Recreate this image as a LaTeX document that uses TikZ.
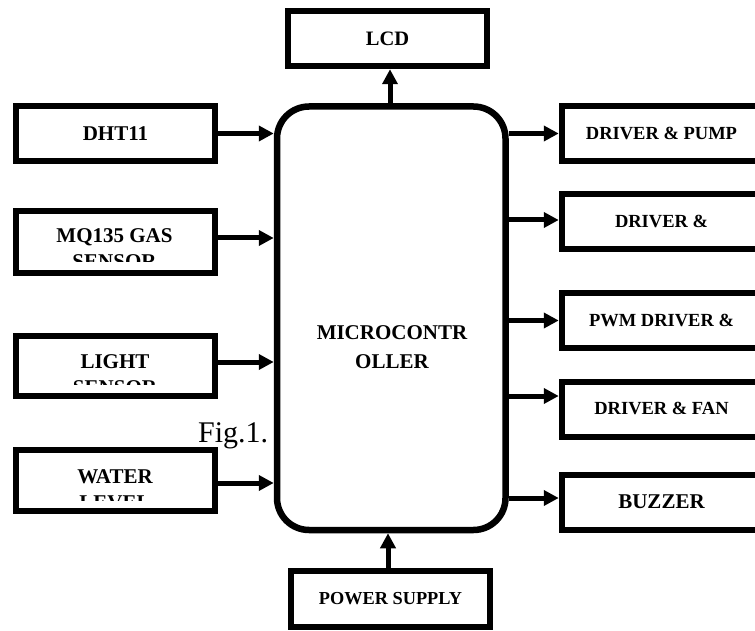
\documentclass[tikz,border=0pt]{standalone}
\usepackage{fontspec}
\setmainfont{Liberation Serif}
\usetikzlibrary{arrows.meta}
\begin{document}
\begin{tikzpicture}[x=1pt,y=-1pt,
  blk/.style={draw, line width=6.5pt, inner sep=0pt, minimum width=199pt, minimum height=55pt},
  lbl/.style={inner sep=0pt, font=\fontsize{21}{24}\selectfont\bfseries},
  rlbl/.style={font=\fontsize{18.5}{22}\selectfont\bfseries},
  arr/.style={line width=5pt, -{Triangle[length=15pt,width=15pt]}},
  mcu/.style={draw, line width=6.5pt, rounded corners=32pt, minimum width=228.5pt, minimum height=423.5pt, inner sep=0pt}]
\useasboundingbox (0,0) rectangle (755,631);
\clip (0,0) rectangle (755,631);
\fill[white] (0,0) rectangle (755,631);

% figure caption
\node[anchor=base west, inner sep=0pt, font=\fontsize{30}{34}\selectfont] (fig) at (198,442) {Fig.1.};

% microcontroller
\node[mcu] (mc) at (391.25,318.25) {};
\node[lbl, anchor=base] (mc1) at (392,339) {MICROCONTR};
\node[lbl, anchor=base] (mc2) at (392,368) {OLLER};

% top / bottom
\node[blk, font=\fontsize{20.5}{24}\selectfont\bfseries] (lcd) at (387.5,38.5) {LCD};
\node[blk, minimum height=56pt, font=\fontsize{18.3}{22}\selectfont\bfseries] (pwr) at (390.5,599) {POWER SUPPLY};

% left inputs
\node[blk, font=\fontsize{21}{24}\selectfont\bfseries] (dht) at (115.5,133.5) {DHT11};
\node[blk, minimum height=62pt] (mq) at (115.5,242) {};
\node[lbl, anchor=base] (mqa) at (114.5,243) {MQ135 GAS};
\begin{scope}
  \clip (16,211) rectangle (215,261);
  \node[lbl, anchor=base] (mqb) at (114.5,269) {SENSOR};
\end{scope}
\node[blk, minimum height=60pt] (light) at (115.5,366) {};
\node[lbl, anchor=base] (lta) at (115,368) {LIGHT};
\begin{scope}
  \clip (16,336) rectangle (215,384);
  \node[lbl, anchor=base] (ltb) at (115,394) {SENSOR};
\end{scope}
\node[blk, minimum height=61pt] (water) at (115.5,480.5) {};
\node[lbl, anchor=base] (wta) at (115,483) {WATER};
\begin{scope}
  \clip (16,450) rectangle (215,500);
  \node[lbl, anchor=base] (wtb) at (115,509) {LEVEL};
\end{scope}

% right outputs
\node[blk, rlbl] (pump) at (661.5,133.5) {DRIVER \& PUMP};
\node[blk, rlbl] (drv) at (661.5,221.5) {DRIVER \&};
\node[blk, rlbl] (pwm) at (661.5,320.5) {PWM DRIVER \&};
\node[blk, rlbl, text height=13pt, text depth=0pt] (fan) at (661.5,409.5) {\raisebox{2pt}{DRIVER \& FAN}};
\node[blk, font=\fontsize{21}{24}\selectfont\bfseries] (buz) at (661.5,502.5) {\raisebox{1.5pt}{BUZZER}};

% connectors: inputs
\draw[arr] (dht.east) -- (dht.east -| mc.west);
\draw[arr] ([yshift=4pt]mq.east) -- ([yshift=4pt]mq.east -| mc.west);
\draw[arr] ([yshift=4pt]light.east) -- ([yshift=4pt]light.east -| mc.west);
\draw[arr] ([yshift=-2.5pt]water.east) -- ([yshift=-2.5pt]water.east -| mc.west);

% connectors: outputs
\draw[arr] (pump.west -| mc.east) -- (pump.west);
\draw[arr] ([yshift=1.5pt]drv.west -| mc.east) -- ([yshift=1.5pt]drv.west);
\draw[arr] (pwm.west -| mc.east) -- (pwm.west);
\draw[arr] ([yshift=13.5pt]fan.west -| mc.east) -- ([yshift=13.5pt]fan.west);
\draw[arr] ([yshift=4.5pt]buz.west -| mc.east) -- ([yshift=4.5pt]buz.west);

% top / bottom connectors
\draw[arr] ([xshift=-1.25pt]mc.north) -- ([xshift=-1.25pt]mc.north |- lcd.south);
\draw[arr] ([xshift=-2.5pt]pwr.north) -- ([xshift=-2.5pt]pwr.north |- mc.south);
\end{tikzpicture}
\end{document}
